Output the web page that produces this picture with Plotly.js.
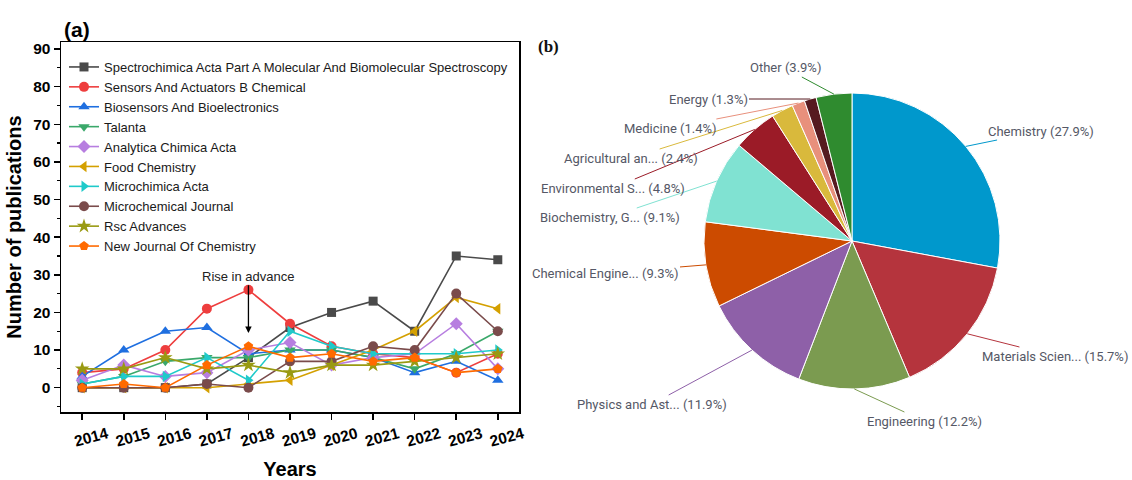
<!DOCTYPE html>
<html><head><meta charset="utf-8">
<script src="https://cdn.plot.ly/plotly-3.0.1.min.js"></script>
<style>html,body{margin:0;padding:0;background:#fff}#chart{width:1132px;height:480px}</style>
</head><body><div id="chart"></div>
<script>
// ---- data: panel (a) ----
const years = [2014, 2015, 2016, 2017, 2018, 2019, 2020, 2021, 2022, 2023, 2024];
const seriesNames = [
  "Spectrochimica Acta Part A Molecular And Biomolecular Spectroscopy",
  "Sensors And Actuators B Chemical",
  "Biosensors And Bioelectronics",
  "Talanta",
  "Analytica Chimica Acta",
  "Food Chemistry",
  "Microchimica Acta",
  "Microchemical Journal",
  "Rsc Advances",
  "New Journal Of Chemistry"
];
const spectrochimica = [0, 0, 0, 1, 8, 16, 20, 23, 15, 35, 34];
const sensorsActuators = [4, 5, 10, 21, 26, 17, 11, 9, 8, 4, 9];
const biosensors = [3, 10, 15, 16, 9, 10, 10, 8, 4, 7, 2];
const talanta = [1, 3, 7, 8, 8, 10, 10, 8, 5, 9, 15];
const analytica = [2, 6, 3, 4, 10, 12, 6, 8, 9, 17, 5];
const foodChemistry = [0, 0, 0, 0, 1, 2, 6, 10, 15, 24, 21];
const microchimica = [1, 3, 3, 8, 2, 15, 11, 9, 9, 9, 10];
const microchemical = [0, 0, 0, 1, 0, 7, 7, 11, 10, 25, 15];
const rscAdvances = [5, 5, 8, 5, 6, 4, 6, 6, 7, 8, 9];
const newJournal = [0, 1, 0, 6, 11, 8, 9, 7, 8, 4, 5];
const yTickVals = [0, 10, 20, 30, 40, 50, 60, 70, 80, 90];
const annotationYear = 2018;
const annotationText = "Rise in advance";

// ---- data: panel (b) ----
const pieLabels = ["Chemistry", "Materials Scien...", "Engineering", "Physics and Ast...", "Chemical Engine...",
  "Biochemistry, G...", "Environmental S...", "Agricultural an...", "Medicine", "Energy", "Other"];
const pieValues = [27.9, 15.7, 12.2, 11.9, 9.3, 9.1, 4.8, 2.4, 1.4, 1.3, 3.9];

// ---- styles ----
const W = 1132, H = 480;
const seriesColors = ["#4a4a4a", "#ee3e3e", "#1f6fe0", "#3aa86a", "#b77ee0", "#d4a000", "#1fcaca", "#7a4b4b", "#999a12", "#ff6a00"];
const seriesSymbols = ["square", "circle", "triangle-up", "triangle-down", "diamond", "triangle-left", "triangle-right", "circle", "star", "pentagon"];
const seriesSizes = [9, 10, 10, 10, 10, 10, 10, 10, 11, 10];
const pieColors = ["#0098cc", "#b5343d", "#7b9b50", "#8e60a8", "#cc4b00", "#80e2d2", "#9b1b27", "#d9b93c", "#e8907c", "#561a20", "#2f8b2f"];
// text centre positions of the pie labels (pixels)
const pieLabelPos = [[1041, 131], [1055, 356], [924, 421], [652, 404], [605, 273], [610, 217], [613, 188], [631, 158], [670, 128], [708, 99], [785, 68]];
const pieCenter = [852, 241], pieR = 148;

const allSeries = [spectrochimica, sensorsActuators, biosensors, talanta, analytica, foodChemistry, microchimica, microchemical, rscAdvances, newJournal];

const traces = allSeries.map((vals, i) => ({
  type: "scatter", mode: "lines+markers",
  x: years, y: vals, name: seriesNames[i],
  line: { color: seriesColors[i], width: 1.6 },
  marker: { symbol: seriesSymbols[i], size: seriesSizes[i], color: seriesColors[i] },
  xaxis: "x", yaxis: "y", hoverinfo: "x+y+name"
}));

traces.push({
  type: "pie", values: pieValues, labels: pieLabels, sort: false,
  direction: "clockwise", rotation: 0, showlegend: false,
  marker: { colors: pieColors, line: { color: "#ffffff", width: 1 } },
  textinfo: "none", hoverinfo: "label+percent",
  domain: { x: [(pieCenter[0] - pieR) / W, (pieCenter[0] + pieR) / W], y: [1 - (pieCenter[1] + pieR) / H, 1 - (pieCenter[1] - pieR) / H] }
});

const annotations = [];
// pie labels with leader lines, anchored at the slice mid-angle on the rim
const total = pieValues.reduce((a, b) => a + b, 0);
let cum = 0;
pieValues.forEach((v, i) => {
  const mid = (cum + v / 2) / total * 2 * Math.PI;
  cum += v;
  const px = pieCenter[0] + pieR * Math.sin(mid);
  const py = pieCenter[1] - pieR * Math.cos(mid);
  const [lx, ly] = pieLabelPos[i];
  annotations.push({
    xref: "paper", yref: "paper", x: px / W, y: 1 - py / H,
    ax: lx - px, ay: ly - py, showarrow: true, arrowhead: 0, arrowwidth: 1,
    arrowcolor: pieColors[i], standoff: 0,
    text: pieLabels[i] + " (" + v.toFixed(1) + "%)",
    font: { family: "Roboto, sans-serif", size: 13, color: "#555866" }
  });
});
annotations.push({
  xref: "x", yref: "y", x: annotationYear, y: 14.5, axref: "x", ayref: "y", ax: annotationYear, ay: 29.6,
  text: annotationText, showarrow: true, arrowhead: 2, arrowsize: 1, arrowwidth: 1.3, arrowcolor: "#000",
  font: { family: "Liberation Sans, Arial, sans-serif", size: 13, color: "#222" }
});
annotations.push({
  xref: "paper", yref: "paper", x: 62 / W, y: 1 - 29 / H, xanchor: "left", yanchor: "middle", showarrow: false,
  text: "(a)", font: { family: "Liberation Sans, Arial, sans-serif", size: 21, color: "#000", weight: "bold" }
});
annotations.push({
  xref: "paper", yref: "paper", x: 536 / W, y: 1 - 47 / H, xanchor: "left", yanchor: "middle", showarrow: false,
  text: "(b)", font: { family: "Liberation Serif, Times New Roman, serif", size: 17, color: "#111", weight: "bold" }
});

const axFont = { family: "Liberation Sans, Arial, sans-serif", size: 15.5, color: "#000", weight: "bold" };
const titleFont = { family: "Liberation Sans, Arial, sans-serif", size: 20, color: "#000", weight: "bold" };
const layout = {
  width: W, height: H, margin: { l: 0, r: 0, t: 0, b: 0 },
  paper_bgcolor: "#fff", plot_bgcolor: "#fff",
  showlegend: true,
  legend: {
    x: 64 / W, y: 1 - 52 / H, xanchor: "left", yanchor: "top", xref: "paper", yref: "paper",
    bgcolor: "rgba(0,0,0,0)", borderwidth: 0, tracegroupgap: 0,
    font: { family: "Liberation Sans, Arial, sans-serif", size: 13, color: "#1a1a1a" }
  },
  xaxis: {
    domain: [61 / W, 519 / W], range: [2013.49, 2024.51],
    tickvals: years, ticktext: years.map(String), tickangle: -15, ticklabelshift: 25,
    ticks: "outside", ticklen: 6, tickwidth: 1.5, tickcolor: "#000",
    showline: true, linewidth: 1.5, linecolor: "#000", mirror: true,
    showgrid: false, zeroline: false, tickfont: axFont, automargin: false,
    title: { text: "Years", font: titleFont, standoff: 18 }
  },
  yaxis: {
    domain: [1 - 412 / H, 1 - 42 / H], range: [-6.46, 91.86],
    tickvals: yTickVals, ticks: "outside", ticklen: 6, tickwidth: 1.5, tickcolor: "#000",
    minor: { dtick: 5, tick0: 0, ticks: "outside", ticklen: 3, tickwidth: 1.2, tickcolor: "#000", showgrid: false },
    showline: true, linewidth: 1.5, linecolor: "#000", mirror: true,
    showgrid: false, zeroline: false, tickfont: axFont, automargin: false,
    title: { text: "Number of publications", font: titleFont, standoff: 6 }
  },
  annotations: annotations
};

Plotly.newPlot("chart", traces, layout, { displayModeBar: false, staticPlot: true });
</script>
</body></html>
